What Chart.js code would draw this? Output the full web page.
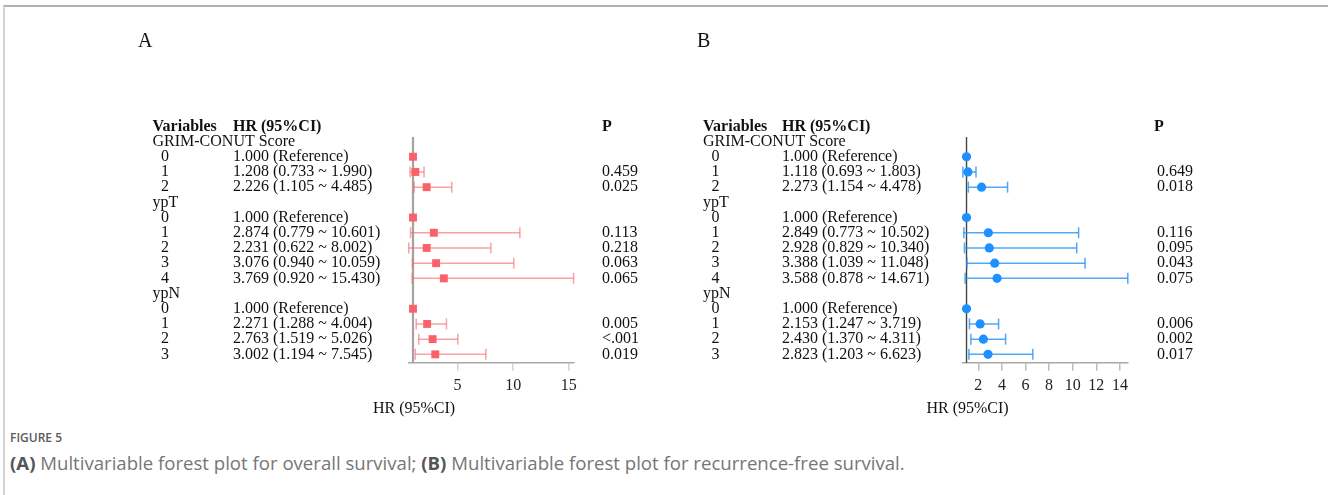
<!DOCTYPE html>
<html><head><meta charset="utf-8">
<script src="https://cdn.jsdelivr.net/npm/chart.js@4"></script>
<style>
html,body{margin:0;padding:0;background:#fff;}
body{width:1328px;height:495px;position:relative;overflow:hidden;}
#frame{position:absolute;left:3px;top:5px;right:0;bottom:0;border-top:2px solid #aeaeb4;border-left:2px solid #d4d4d8;}
canvas{position:absolute;left:0;top:0;}
.letter{position:absolute;font-family:"Liberation Serif";font-size:20px;line-height:20px;color:#111;}
#fig{position:absolute;left:10px;top:429px;font-family:"Open Sans";font-size:12px;font-weight:600;color:#5a5a5a;}
#cap{position:absolute;left:10px;top:451px;font-family:"Open Sans";font-size:18.6px;line-height:24px;color:#767676;white-space:nowrap;}
#cap b{color:#555;font-weight:700;}
</style></head>
<body>
<div id="frame"></div>
<canvas id="cA" width="1328" height="420"></canvas>
<canvas id="cB" width="1328" height="420"></canvas>
<div class="letter" style="left:138px;top:30px;">A</div>
<div class="letter" style="left:697px;top:30px;">B</div>
<div id="fig">FIGURE 5</div>
<div id="cap"><b>(A)</b> Multivariable forest plot for overall survival; <b>(B)</b> Multivariable forest plot for recurrence-free survival.</div>
<script>
// ---- data ----
const groupNames = ["GRIM-CONUT Score", "ypT", "ypN"];
const groupSizes = [3, 5, 4];
const levelLabels = ["0","1","2","0","1","2","3","4","0","1","2","3"];

const hrA  = [1.000, 1.208, 2.226, 1.000, 2.874, 2.231, 3.076, 3.769, 1.000, 2.271, 2.763, 3.002];
const lowA = [null, 0.733, 1.105, null, 0.779, 0.622, 0.940, 0.920, null, 1.288, 1.519, 1.194];
const upA  = [null, 1.990, 4.485, null, 10.601, 8.002, 10.059, 15.430, null, 4.004, 5.026, 7.545];
const pA   = ["", "0.459", "0.025", "", "0.113", "0.218", "0.063", "0.065", "", "0.005", "<.001", "0.019"];

const hrB  = [1.000, 1.118, 2.273, 1.000, 2.849, 2.928, 3.388, 3.588, 1.000, 2.153, 2.430, 2.823];
const lowB = [null, 0.693, 1.154, null, 0.773, 0.829, 1.039, 0.878, null, 1.247, 1.370, 1.203];
const upB  = [null, 1.803, 4.478, null, 10.502, 10.340, 11.048, 14.671, null, 3.719, 4.311, 6.623];
const pB   = ["", "0.649", "0.018", "", "0.116", "0.095", "0.043", "0.075", "", "0.006", "0.002", "0.017"];

const ticksA = [5, 10, 15];
const ticksB = [2, 4, 6, 8, 10, 12, 14];

// ---- build rows ----
const rows = [];
let k = 0;
groupNames.forEach((g, gi) => {
  rows.push({type: 'group', text: g});
  for (let j = 0; j < groupSizes[gi]; j++) { rows.push({type: 'level', text: levelLabels[k], idx: k}); k++; }
});
const Y_TOP = 0.7, Y_BOT = rows.length + 0.55;

function fmt(hr, lo, up) {
  return lo == null ? hr.toFixed(3) + ' (Reference)' : hr.toFixed(3) + ' (' + lo.toFixed(3) + ' ~ ' + up.toFixed(3) + ')';
}

function makeChart(id, d, st) {
  const markers = [], caps = [], ci = [];
  rows.forEach((r, i) => {
    if (r.type !== 'level') return;
    const y = i + 1;
    markers.push({x: d.hr[r.idx], y});
    if (d.lo[r.idx] != null) {
      ci.push({x: d.lo[r.idx], y}, {x: d.up[r.idx], y}, {x: null, y: null});
      caps.push({x: d.lo[r.idx], y}, {x: d.up[r.idx], y});
    }
  });
  const xmin = Math.min(...d.lo.filter(v => v != null));
  const xmax = Math.max(...d.up.filter(v => v != null));

  const plugin = {
    id: 'tbl' + id,
    afterDraw(chart) {
      const ctx = chart.ctx, ys = chart.scales.y, xs = chart.scales.x;
      ctx.save();
      ctx.fillStyle = '#111';
      ctx.textBaseline = 'middle';
      ctx.textAlign = 'left';
      const y0 = ys.getPixelForValue(0);
      ctx.font = 'bold 16px "Liberation Serif"';
      ctx.fillText('Variables', st.colLabel, y0);
      ctx.fillText('HR (95%CI)', st.colHR, y0);
      ctx.fillText('P', st.colPHead, y0);
      ctx.font = '16px "Liberation Serif"';
      rows.forEach((r, i) => {
        const y = ys.getPixelForValue(i + 1);
        if (r.type === 'group') { ctx.fillText(r.text, st.colLabel, y); return; }
        ctx.fillText(r.text, st.colLabel + 8.5, y);
        ctx.fillText(fmt(d.hr[r.idx], d.lo[r.idx], d.up[r.idx]), st.colHR, y);
        if (d.p[r.idx]) ctx.fillText(d.p[r.idx], st.colP, y);
      });
      ctx.textAlign = 'center';
      ctx.fillText('HR (95%CI)', xs.getPixelForValue(1) + 1, 409);
      ctx.restore();
    }
  };

  return new Chart(document.getElementById(id), {
    data: {
      datasets: [
        {type: 'scatter', data: markers, pointStyle: st.shape, pointRadius: st.r, pointHoverRadius: st.r,
         backgroundColor: st.color, borderColor: st.color, borderWidth: 0, clip: false},
        {type: 'scatter', data: caps, pointStyle: 'line', rotation: 90, pointRadius: 5.5, pointHoverRadius: 5.5,
         borderColor: st.ciColor, borderWidth: 1.5, clip: false},
        {type: 'line', data: ci, borderColor: st.ciColor, borderWidth: 1.5, pointRadius: 0, spanGaps: false, clip: false},
        {type: 'line', data: [{x: 1, y: Y_TOP}, {x: 1, y: Y_BOT}], borderColor: st.refColor, borderWidth: st.refW, pointRadius: 0, clip: false}
      ]
    },
    options: {
      responsive: false, animation: false,
      layout: {padding: {left: st.left, right: 1328 - st.right, top: 137, bottom: 420 - 366.7 - 34.2}},
      plugins: {legend: {display: false}, tooltip: {enabled: false}},
      scales: {
        x: {type: 'linear', min: xmin, max: xmax, position: 'bottom',
            afterBuildTicks: s => { s.ticks = st.ticks.map(v => ({value: v})); },
            ticks: {autoSkip: false, maxRotation: 0, color: '#222', padding: 5.5, font: {family: 'Liberation Serif', size: 16}},
            grid: {display: true, drawOnChartArea: false, drawTicks: true, tickLength: 8, color: st.tickColor, lineWidth: 1.5},
            border: {display: true, color: '#a8a8a8', width: 1.5}},
        y: {type: 'linear', display: false, reverse: true, min: Y_TOP, max: Y_BOT}
      }
    },
    plugins: [plugin]
  });
}

makeChart('cA', {hr: hrA, lo: lowA, up: upA, p: pA}, {
  left: 408.8, right: 573.6, ticks: ticksA, shape: 'rect', r: 5.6, color: '#F9626B', ciColor: 'rgba(248,110,118,0.65)',
  refColor: '#a3a3a3', refW: 2.2, tickColor: '#d2d2d2', colLabel: 152.5, colHR: 233, colP: 602, colPHead: 602
});
makeChart('cB', {hr: hrB, lo: lowB, up: upB, p: pB}, {
  left: 962.9, right: 1127.8, ticks: ticksB, shape: 'circle', r: 4.6, color: '#1E90FF', ciColor: 'rgba(40,145,250,0.8)',
  refColor: '#444', refW: 1.4, tickColor: '#bdbdbd', colLabel: 703, colHR: 782, colP: 1157, colPHead: 1154
});
</script>
</body></html>
